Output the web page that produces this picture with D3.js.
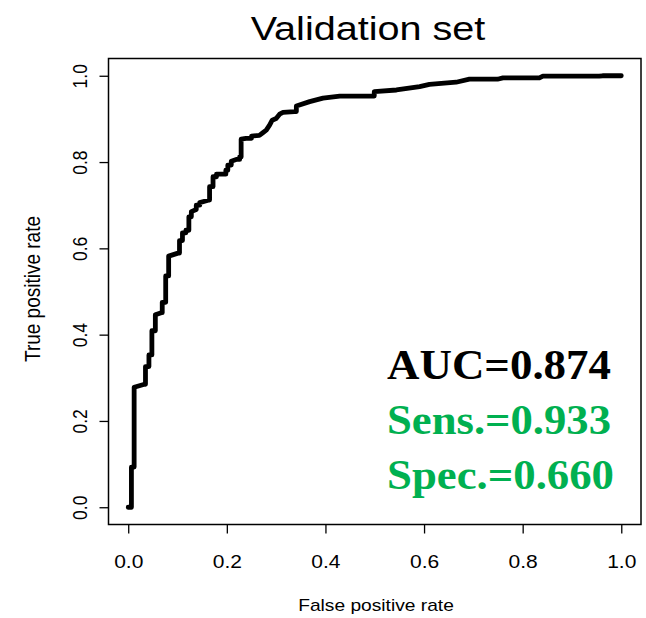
<!DOCTYPE html>
<html>
<head>
<meta charset="utf-8">
<script src="https://cdn.jsdelivr.net/npm/d3@7"></script>
<style>
  body { margin: 0; background: #fff; }
  svg text { font-family: "Liberation Sans", Arial, sans-serif; }
</style>
</head>
<body>
<script>
//consts
const width = 646;
const height = 618;
const stretch = 1.2; // picture is a bit wider than tall

// ROC points (false positive rate, true positive rate)
const fpr = [0, 0.0065, 0.0065, 0.012, 0.012, 0.033, 0.035, 0.035, 0.042, 0.042, 0.048, 0.048, 0.055, 0.055,
  0.067, 0.069, 0.069, 0.076, 0.076, 0.082, 0.082, 0.101, 0.104, 0.104, 0.110, 0.110, 0.117, 0.117, 0.123, 0.123,
  0.128, 0.128, 0.138, 0.138, 0.145, 0.145, 0.164, 0.165, 0.165, 0.172, 0.172, 0.179, 0.179, 0.196, 0.198, 0.198,
  0.202, 0.202, 0.209, 0.209, 0.219, 0.226, 0.226, 0.229, 0.229, 0.239, 0.250, 0.250, 0.266, 0.273, 0.280, 0.287,
  0.292, 0.300, 0.307, 0.314, 0.337, 0.341, 0.341, 0.368, 0.395, 0.429, 0.499, 0.499, 0.544, 0.591, 0.611, 0.665,
  0.692, 0.749, 0.760, 0.834, 0.841, 0.955, 0.962, 1];
const tpr = [0, 0, 0.093, 0.093, 0.278, 0.285, 0.285, 0.326, 0.326, 0.353, 0.353, 0.409, 0.409, 0.446,
  0.451, 0.451, 0.475, 0.475, 0.536, 0.536, 0.582, 0.589, 0.589, 0.618, 0.618, 0.636, 0.636, 0.642, 0.642, 0.673,
  0.673, 0.685, 0.690, 0.700, 0.700, 0.706, 0.712, 0.712, 0.743, 0.743, 0.766, 0.766, 0.772, 0.772, 0.772, 0.781,
  0.781, 0.793, 0.793, 0.802, 0.806, 0.806, 0.812, 0.812, 0.853, 0.855, 0.855, 0.860, 0.862, 0.868, 0.874, 0.886,
  0.897, 0.901, 0.911, 0.915, 0.917, 0.917, 0.930, 0.940, 0.948, 0.953, 0.953, 0.963, 0.967, 0.975, 0.980, 0.985,
  0.992, 0.992, 0.995, 0.995, 0.999, 0.999, 1.0, 1];

const xTicks = [0, 0.2, 0.4, 0.6, 0.8, 1.0];
const yTicks = [0, 0.2, 0.4, 0.6, 0.8, 1.0];
const statLabels = ["AUC=0.874", "Sens.=0.933", "Spec.=0.660"];
const statColors = ["#000000", "#00b050", "#00b050"];

const points = fpr.map((f, i) => ({ fpr: f, tpr: tpr[i] }));

// plot box (R style, 4% padding on each side)
const box = { left: 108.5, right: 641, top: 58.5, bottom: 524.5 };

const xScale = d3.scaleLinear()
  .domain([-0.04, 1.04])
  .range([box.left, box.right]);

const yScale = d3.scaleLinear()
  .domain([-0.04, 1.04])
  .range([box.bottom, box.top]);

//SVG
const svg = d3.select("body")
  .append("svg")
  .attr("width", width)
  .attr("height", height);

// box
svg.append("rect")
  .attr("x", box.left)
  .attr("y", box.top)
  .attr("width", box.right - box.left)
  .attr("height", box.bottom - box.top)
  .attr("fill", "none")
  .attr("stroke", "#000")
  .attr("stroke-width", 1.5);

// axes
const bottomAxis = d3.axisBottom(xScale)
  .tickValues(xTicks)
  .tickFormat(d3.format(".1f"))
  .tickSize(9)
  .tickSizeOuter(0);

const leftAxis = d3.axisLeft(yScale)
  .tickValues(yTicks)
  .tickFormat(d3.format(".1f"))
  .tickSize(9)
  .tickSizeOuter(0);

const gx = svg.append("g")
  .attr("transform", "translate(0," + box.bottom + ")")
  .call(bottomAxis);
gx.select(".domain").remove();
gx.selectAll(".tick line").attr("stroke-width", 1.3);
gx.selectAll(".tick text")
  .attr("y", null)
  .attr("dy", null)
  .attr("transform", "translate(0,43) scale(" + stretch + ",1)")
  .style("font-size", "17.5px")
  .attr("fill", "#000");

const gy = svg.append("g")
  .attr("transform", "translate(" + box.left + ",0)")
  .call(leftAxis);
gy.select(".domain").remove();
gy.selectAll(".tick line").attr("stroke-width", 1.3);
gy.selectAll(".tick text")
  .attr("x", null)
  .attr("dy", null)
  .attr("text-anchor", "middle")
  .attr("transform", "translate(-22,0) scale(" + stretch + ",1) rotate(-90)")
  .style("font-size", "17.5px")
  .attr("fill", "#000");

// ROC curve
const line = d3.line()
  .x(d => xScale(d.fpr))
  .y(d => yScale(d.tpr));

svg.append("path")
  .datum(points)
  .attr("d", line)
  .attr("fill", "none")
  .attr("stroke", "#000")
  .attr("stroke-width", 4.8)
  .attr("stroke-linejoin", "round")
  .attr("stroke-linecap", "round");

// title + axis titles
svg.append("text")
  .attr("transform", "translate(368,40) scale(" + stretch + ",1)")
  .attr("text-anchor", "middle")
  .style("font-size", "33px")
  .text("Validation set");

svg.append("text")
  .attr("transform", "translate(376,611) scale(" + stretch + ",1)")
  .attr("text-anchor", "middle")
  .style("font-size", "16px")
  .text("False positive rate");

svg.append("text")
  .attr("transform", "translate(40,289) scale(" + stretch + ",1) rotate(-90)")
  .attr("text-anchor", "middle")
  .style("font-size", "19px")
  .text("True positive rate");

// stats
const statY = [379, 434, 489];
const statLen = [224, 224, 227];
svg.selectAll(".stat")
  .data(statLabels)
  .enter()
  .append("text")
  .attr("class", "stat")
  .attr("x", 387)
  .attr("y", (d, i) => statY[i])
  .attr("textLength", (d, i) => statLen[i])
  .attr("lengthAdjust", "spacingAndGlyphs")
  .style("font-family", "'Liberation Serif', 'Times New Roman', serif")
  .style("font-weight", "bold")
  .style("font-size", "43px")
  .attr("fill", (d, i) => statColors[i])
  .text(d => d);
</script>
</body>
</html>
